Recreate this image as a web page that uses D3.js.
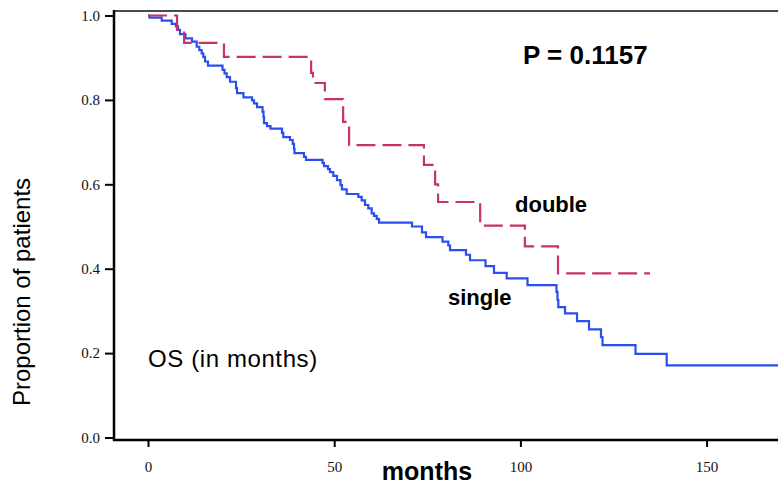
<!DOCTYPE html>
<html>
<head>
<meta charset="utf-8">
<script src="https://cdn.jsdelivr.net/npm/d3@7"></script>
<style>
  html, body { margin: 0; padding: 0; background: #fff; }
  svg { display: block; }
</style>
</head>
<body>
<svg id="chart" width="778" height="486"></svg>
<script>
// Kaplan-Meier overall survival, single vs double group.
// Each entry: [month of event, survival proportion after the event]
const singleSteps = [
  [0, 1.0], [0.4, 0.995], [3.68, 0.988], [6.36, 0.980], [7.52, 0.974], [8.06, 0.966],
  [8.59, 0.956], [10.07, 0.946], [11.82, 0.938], [13.08, 0.926], [13.78, 0.918],
  [14.42, 0.910], [14.85, 0.902], [15.31, 0.891], [16.11, 0.881], [20.01, 0.871],
  [20.54, 0.863], [21.13, 0.854], [22.02, 0.843], [23.63, 0.828], [23.90, 0.816],
  [25.64, 0.806], [27.93, 0.799], [28.46, 0.792], [29.27, 0.783], [30.75, 0.772],
  [31.02, 0.760], [31.15, 0.745], [31.95, 0.738], [32.89, 0.732], [35.98, 0.722],
  [36.33, 0.712], [38.13, 0.705], [38.86, 0.696], [39.21, 0.684], [39.34, 0.674],
  [41.89, 0.665], [42.43, 0.658], [46.86, 0.651], [47.26, 0.643], [48.34, 0.636],
  [48.87, 0.629], [49.76, 0.620], [50.75, 0.610], [51.69, 0.598], [52.09, 0.588],
  [53.36, 0.577], [56.47, 0.570], [57.38, 0.562], [58.27, 0.551], [59.16, 0.543],
  [60.07, 0.531], [60.69, 0.525], [61.41, 0.518], [62.03, 0.509], [70.89, 0.500],
  [73.58, 0.486], [74.65, 0.475], [79.08, 0.464], [80.64, 0.455], [81.10, 0.444],
  [85.39, 0.433], [86.47, 0.420], [90.63, 0.406], [92.91, 0.390], [96.32, 0.377],
  [101.91, 0.361], [109.69, 0.345], [109.96, 0.326], [110.18, 0.309], [111.98, 0.294],
  [115.20, 0.276], [118.42, 0.256], [121.64, 0.238], [122.05, 0.219], [130.91, 0.198],
  [139.29, 0.171], [172, 0.171]
];

const doubleSteps = [
  [0, 1.0], [7.8, 0.966], [9.7, 0.935], [20.4, 0.902], [43.8, 0.864], [44.3, 0.840],
  [47.5, 0.802], [52.4, 0.748], [54.0, 0.693], [74.1, 0.646], [77.1, 0.600],
  [77.9, 0.558], [89.2, 0.502], [101.2, 0.453], [110.1, 0.389], [134.8, 0.389]
];

const xTicks = [0, 50, 100, 150];
const yTicks = [0.0, 0.2, 0.4, 0.6, 0.8, 1.0];

const groupLabels = ["double", "single"];
const pValueText = "P = 0.1157";
const panelNote = "OS (in months)";
const xTitle = "months";
const yTitle = "Proportion of patients";

const W = 778, H = 486;
const svg = d3.select("#chart");

// Scales: month 0 sits at x=148, 100 months spans ~372px; survival 1.0..0.0 runs top to bottom
const x = d3.scaleLinear().domain([0, 100]).range([148, 520.4]);
const y = d3.scaleLinear().domain([0, 1]).range([437.5, 15.5]);

const axisLeftX = 114;
const axisBottomY = 440;

svg.append("rect").attr("width", W).attr("height", H).attr("fill", "#fff");

// Top frame line
svg.append("line")
  .attr("x1", axisLeftX).attr("x2", W)
  .attr("y1", 11).attr("y2", 11)
  .attr("stroke", "#4a4a4a").attr("stroke-width", 2);

// Y axis with ticks
const yAxis = d3.axisLeft(y)
  .tickValues(yTicks)
  .tickFormat(d3.format(".1f"))
  .tickSize(9)
  .tickPadding(5);

const gy = svg.append("g")
  .attr("transform", `translate(${axisLeftX},0)`)
  .call(yAxis);
gy.select(".domain").remove();
gy.selectAll(".tick line").attr("stroke", "#000").attr("stroke-width", 2);
gy.selectAll(".tick text")
  .attr("font-family", "'Liberation Serif', 'DejaVu Serif', serif")
  .attr("font-size", 15)
  .attr("fill", "#111");

// X axis with ticks
const xAxis = d3.axisBottom(x)
  .tickValues(xTicks)
  .tickFormat(d3.format("d"))
  .tickSize(7)
  .tickPadding(14);

const gx = svg.append("g")
  .attr("transform", `translate(0,${axisBottomY})`)
  .call(xAxis);
gx.select(".domain").remove();
gx.selectAll(".tick line").attr("stroke", "#000").attr("stroke-width", 2);
gx.selectAll(".tick text")
  .attr("font-family", "'Liberation Serif', 'DejaVu Serif', serif")
  .attr("font-size", 15)
  .attr("fill", "#111");

// Axis lines
svg.append("line")
  .attr("x1", axisLeftX).attr("x2", axisLeftX)
  .attr("y1", 10).attr("y2", axisBottomY + 1)
  .attr("stroke", "#000").attr("stroke-width", 2.5);
svg.append("line")
  .attr("x1", axisLeftX - 1).attr("x2", W)
  .attr("y1", axisBottomY).attr("y2", axisBottomY)
  .attr("stroke", "#000").attr("stroke-width", 2.5);

// Survival curves
const stepLine = d3.line()
  .x(d => x(d[0]))
  .y(d => y(d[1]))
  .curve(d3.curveStepAfter);

svg.append("clipPath").attr("id", "plotClip")
  .append("rect").attr("x", axisLeftX + 1).attr("y", 12)
  .attr("width", W - axisLeftX).attr("height", axisBottomY - 14);

const curves = svg.append("g").attr("clip-path", "url(#plotClip)");

curves.append("path")
  .datum(singleSteps)
  .attr("d", stepLine)
  .attr("fill", "none")
  .attr("stroke", "#2a4fee")
  .attr("stroke-width", 2.2);

curves.append("path")
  .datum(doubleSteps)
  .attr("d", stepLine)
  .attr("fill", "none")
  .attr("stroke", "#c8306e")
  .attr("stroke-width", 2.2)
  .attr("stroke-dasharray", "19,7");

// Annotations
const sans = "'Liberation Sans', Arial, Helvetica, sans-serif";

svg.append("text")
  .attr("x", 523).attr("y", 64)
  .attr("font-family", sans).attr("font-weight", "bold")
  .attr("font-size", 26).attr("fill", "#000")
  .text(pValueText);

svg.append("text")
  .attr("x", 515).attr("y", 212)
  .attr("font-family", sans).attr("font-weight", "bold")
  .attr("font-size", 22).attr("fill", "#000")
  .text(groupLabels[0]);

svg.append("text")
  .attr("x", 448).attr("y", 305)
  .attr("font-family", sans).attr("font-weight", "bold")
  .attr("font-size", 22).attr("fill", "#000")
  .text(groupLabels[1]);

svg.append("text")
  .attr("x", 148).attr("y", 367)
  .attr("font-family", sans)
  .attr("font-size", 24).attr("letter-spacing", 0.6).attr("fill", "#000")
  .text(panelNote);

svg.append("text")
  .attr("x", 427).attr("y", 480)
  .attr("text-anchor", "middle")
  .attr("font-family", sans).attr("font-weight", "bold")
  .attr("font-size", 25).attr("fill", "#000")
  .text(xTitle);

svg.append("text")
  .attr("transform", "translate(30,292) rotate(-90)")
  .attr("text-anchor", "middle")
  .attr("font-family", sans)
  .attr("font-size", 24).attr("fill", "#000")
  .text(yTitle);
</script>
</body>
</html>
